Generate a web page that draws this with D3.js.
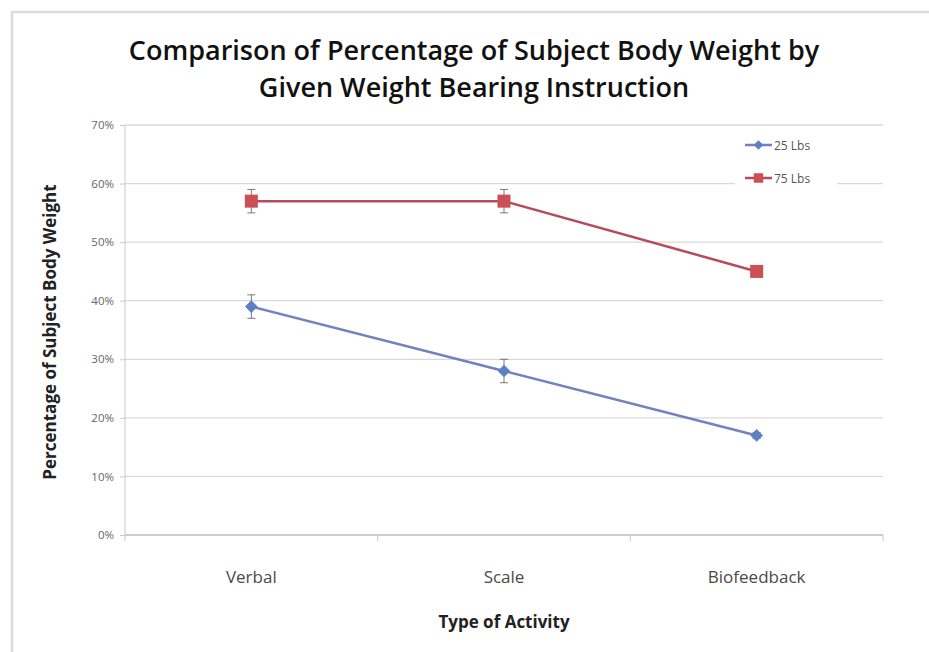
<!DOCTYPE html>
<html>
<head>
<meta charset="utf-8">
<script src="https://cdn.jsdelivr.net/npm/d3@7"></script>
<style>
  body { margin: 0; background: #fff; }
  text { font-family: "Open Sans", "Noto Sans", sans-serif; }
</style>
</head>
<body>
<svg class="chart" width="929" height="652"></svg>
<script>
const categories = ["Verbal", "Scale", "Biofeedback"]
const seriesNames = ["25 Lbs", "75 Lbs"]
const values25 = [39, 28, 17]
const values75 = [57, 57, 45]
const err25 = [2, 2, 0.5]
const err75 = [2, 2, 0.5]
const yTicks = [0, 10, 20, 30, 40, 50, 60, 70]

const margin = {top: 125, right: 46, bottom: 117, left: 125}
const width = 929 - margin.left - margin.right,
      height = 652 - margin.top - margin.bottom

const lineColor = {"25 Lbs": "#7281c0", "75 Lbs": "#b84a60"}
const markColor = {"25 Lbs": "#5b80c6", "75 Lbs": "#cc5053"}

const series = [
  {name: seriesNames[0], values: values25, err: err25, shape: "diamond"},
  {name: seriesNames[1], values: values75, err: err75, shape: "square"}
]

// diamond = square turned 45 degrees, like the spreadsheet marker
function marker(shape, big) {
  if (shape === "square") return d3.symbol().type(d3.symbolSquare).size(big ? 170 : 90)()
  return d3.symbol().type(d3.symbolSquare).size(big ? 80 : 45)()
}
function markerRot(shape) { return shape === "diamond" ? " rotate(45)" : "" }

let svg = d3.select(".chart")

// light frame round the picture
svg.append("path")
  .attr("d", "M12,660 L12,12 L940,12")
  .attr("fill", "none")
  .attr("stroke", "#dcdcdc")
  .attr("stroke-width", 2.5)

let chart = svg.append("g")
  .attr("transform", "translate(" + margin.left + "," + margin.top + ")")

let x = d3.scaleBand().domain(categories).range([0, width])
let y = d3.scaleLinear().domain([0, 70]).range([height, 0])

// gridlines
chart.append("g")
  .selectAll("line")
  .data(yTicks)
  .enter().append("line")
  .attr("x1", 0).attr("x2", width)
  .attr("y1", d => y(d)).attr("y2", d => y(d))
  .attr("stroke", d => d === 0 ? "#c8c8c8" : "#d9d9d9")
  .attr("stroke-width", 1.3)

// y axis
let yAxis = d3.axisLeft(y).tickValues(yTicks).tickFormat(d => d + "%").tickSize(5).tickPadding(6)
let yg = chart.append("g").call(yAxis)
yg.select(".domain").attr("stroke", "#c8c8c8").attr("d", "M0,0V" + height)
yg.selectAll(".tick line").attr("stroke", "#c8c8c8")
yg.selectAll(".tick text").attr("fill", "#666").style("font-size", "11.5px")

// x axis, ticks between categories
let xg = chart.append("g").attr("transform", "translate(0," + height + ")")
xg.append("line").attr("x1", 0).attr("x2", width).attr("stroke", "#c8c8c8").attr("stroke-width", 1.3)
let edges = categories.map(c => x(c)).concat([width])
xg.selectAll(".edge").data(edges).enter().append("line")
  .attr("x1", d => d).attr("x2", d => d).attr("y1", 0).attr("y2", 6)
  .attr("stroke", "#c8c8c8")
xg.selectAll(".cat").data(categories).enter().append("text")
  .attr("x", d => x(d) + x.bandwidth() / 2)
  .attr("y", 48)
  .attr("text-anchor", "middle")
  .attr("fill", "#4a4a4a")
  .style("font-size", "17px")
  .text(d => d)

// lines
let line = d3.line()
  .x((d, i) => x(categories[i]) + x.bandwidth() / 2)
  .y(d => y(d))

series.forEach(s => {
  chart.append("path")
    .datum(s.values)
    .attr("d", line)
    .attr("fill", "none")
    .attr("stroke", lineColor[s.name])
    .attr("stroke-width", 2.5)

  // error bars
  let eb = chart.append("g").selectAll("g")
    .data(s.values.map((v, i) => ({v: v, e: s.err[i], c: categories[i]})))
    .enter().append("g")
    .attr("transform", d => "translate(" + (x(d.c) + x.bandwidth() / 2) + ",0)")
  eb.append("line")
    .attr("y1", d => y(d.v - d.e)).attr("y2", d => y(d.v + d.e))
    .attr("stroke", "#777").attr("stroke-width", 1)
  eb.append("line").attr("x1", -4).attr("x2", 4)
    .attr("y1", d => y(d.v + d.e)).attr("y2", d => y(d.v + d.e))
    .attr("stroke", "#777").attr("stroke-width", 1)
  eb.append("line").attr("x1", -4).attr("x2", 4)
    .attr("y1", d => y(d.v - d.e)).attr("y2", d => y(d.v - d.e))
    .attr("stroke", "#777").attr("stroke-width", 1)

  // markers
  chart.append("g").selectAll("path")
    .data(s.values)
    .enter().append("path")
    .attr("d", marker(s.shape, true))
    .attr("transform", (d, i) => "translate(" + (x(categories[i]) + x.bandwidth() / 2) + "," + y(d) + ")" + markerRot(s.shape))
    .attr("fill", markColor[s.name])
})

// legend
let legend = chart.append("g").attr("transform", "translate(" + (width - 148) + ",7)")
legend.append("rect").attr("x", 0).attr("y", 0).attr("width", 102).attr("height", 62).attr("fill", "#fff")
series.forEach((s, i) => {
  let g = legend.append("g").attr("transform", "translate(0," + (13 + i * 33) + ")")
  g.append("line").attr("x1", 10).attr("x2", 37).attr("stroke", lineColor[s.name]).attr("stroke-width", 2.5)
  g.append("path")
    .attr("d", marker(s.shape, false))
    .attr("transform", "translate(23.5,0)" + markerRot(s.shape))
    .attr("fill", markColor[s.name])
  g.append("text").attr("x", 39).attr("y", 4.5)
    .attr("fill", "#555").style("font-size", "12px").text(s.name)
})

// titles
svg.append("text").attr("x", 474).attr("y", 60).attr("text-anchor", "middle")
  .style("font-size", "27px").style("font-weight", 600).attr("fill", "#111")
  .text("Comparison of Percentage of Subject Body Weight by")
svg.append("text").attr("x", 474).attr("y", 97).attr("text-anchor", "middle")
  .style("font-size", "27px").style("font-weight", 600).attr("fill", "#111")
  .text("Given Weight Bearing Instruction")
svg.append("text").attr("x", margin.left + width / 2).attr("y", 628).attr("text-anchor", "middle")
  .style("font-size", "17px").style("font-weight", 700).attr("fill", "#222")
  .text("Type of Activity")
svg.append("text").attr("transform", "translate(56," + (margin.top + height / 2 + 2) + ") rotate(-90)")
  .attr("text-anchor", "middle")
  .style("font-size", "17px").style("font-weight", 700).attr("fill", "#222")
  .text("Percentage of Subject Body Weight")
</script>
</body>
</html>
